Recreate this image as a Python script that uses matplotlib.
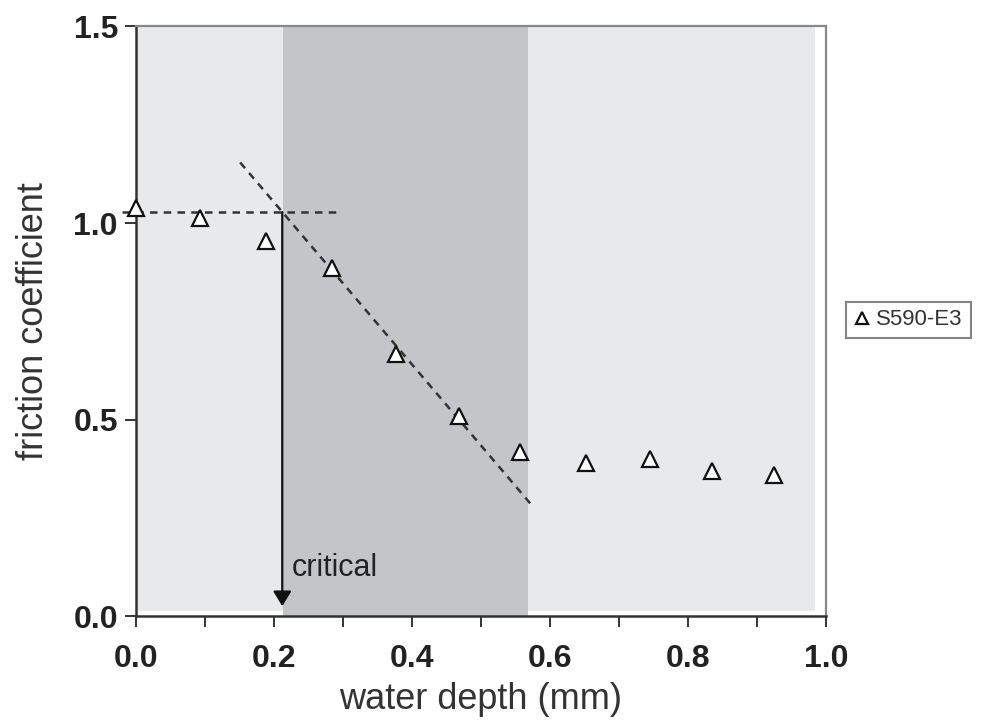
import numpy as np
import matplotlib
matplotlib.use('Agg')
import matplotlib.pyplot as plt
import matplotlib.patches as patches
from matplotlib.ticker import MultipleLocator

plt.rcParams['font.family'] = ['Liberation Sans', 'DejaVu Sans']

# --- data ---
depth = [0.0, 0.093, 0.189, 0.284, 0.377, 0.468, 0.557, 0.652, 0.745, 0.835, 0.925]
friction = [1.038, 1.012, 0.955, 0.885, 0.667, 0.509, 0.418, 0.389, 0.399, 0.370, 0.359]
series_name = "S590-E3"

x_ticks = [0.0, 0.2, 0.4, 0.6, 0.8, 1.0]
y_ticks = [0.0, 0.5, 1.0, 1.5]

# fitted lines and regions
flat_x = [-0.02, 0.291]
flat_y = [1.028, 1.028]
slope_x = [0.151, 0.576]
slope_y = [1.154, 0.277]
critical_x = 0.212
critical_y = 1.028
band_light = (0.0, 0.984)
band_dark = (0.213, 0.568)

fig = plt.figure(figsize=(9.84, 7.22), dpi=100)
ax = fig.add_axes([0.1382, 0.1468, 0.7012, 0.8165])

# shaded backgrounds
ax.add_patch(patches.Rectangle((band_light[0], 0.012), band_light[1] - band_light[0], 1.5,
                               facecolor='#e8e9eb', edgecolor='none', zorder=0))
ax.add_patch(patches.Rectangle((band_dark[0], 0.0), band_dark[1] - band_dark[0], 1.5,
                               facecolor='#c4c5c8', edgecolor='none', zorder=0.5))

# dashed fit lines
ax.plot(flat_x, flat_y, linestyle=(0, (3, 2.5)), color='#333333', lw=1.8, zorder=2, clip_on=False)
ax.plot(slope_x, slope_y, linestyle=(0, (3, 2.5)), color='#333333', lw=1.8, zorder=2)

# critical arrow
ax.annotate('', xy=(critical_x, 0.025), xytext=(critical_x, critical_y),
            arrowprops=dict(arrowstyle='-|>,head_length=0.9,head_width=0.55',
                            color='#111111', lw=1.6, shrinkA=0, shrinkB=0), zorder=3)
ax.text(critical_x + 0.014, 0.122, 'critical', fontsize=22, color='#222222',
        ha='left', va='center', zorder=4)

# data
ax.plot(depth, friction, linestyle='none', marker='^', markersize=11,
        markerfacecolor='white', markeredgecolor='#111111', markeredgewidth=1.6,
        label=series_name, zorder=5, clip_on=False)

ax.set_xlim(0, 1.0)
ax.set_ylim(0, 1.5)
ax.set_xticks(x_ticks)
ax.set_xticklabels([f"{v:.1f}" for v in x_ticks])
ax.xaxis.set_minor_locator(MultipleLocator(0.1))
ax.set_yticks(y_ticks)
ax.set_yticklabels([f"{v:.1f}" for v in y_ticks])

ax.tick_params(axis='both', which='both', direction='out', length=8, width=1.4,
               color='#333333', labelsize=23, labelcolor='#222222')
for lab in ax.get_xticklabels() + ax.get_yticklabels():
    lab.set_fontweight('bold')
ax.tick_params(axis='x', pad=12)
ax.tick_params(axis='y', pad=5)

for side in ['left', 'bottom']:
    ax.spines[side].set_color('#333333')
    ax.spines[side].set_linewidth(1.8)
for side in ['top', 'right']:
    ax.spines[side].set_color('#888888')
    ax.spines[side].set_linewidth(1.6)

ax.set_xlabel('water depth (mm)', fontsize=26, color='#333333', labelpad=6)
ax.set_ylabel('friction coefficient', fontsize=26, color='#333333', labelpad=16)

leg = fig.legend(loc='center left', bbox_to_anchor=(0.86, 0.557), fontsize=16,
                 frameon=True, fancybox=False, handlelength=0.7, handletextpad=0.3,
                 borderpad=0.35, borderaxespad=0.0, markerscale=0.8)
leg.get_frame().set_edgecolor('#666666')
leg.get_frame().set_linewidth(1.5)
for t in leg.get_texts():
    t.set_color('#333333')

fig.savefig('out.png', dpi=100)
